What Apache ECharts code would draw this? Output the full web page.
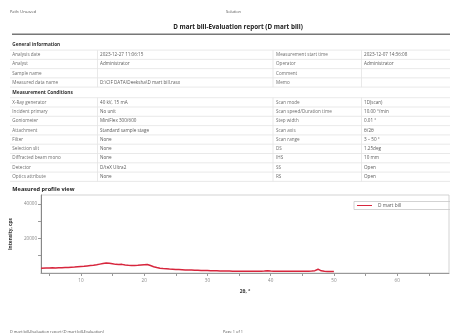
<!DOCTYPE html>
<html>
<head>
<meta charset="utf-8">
<script src="https://cdn.jsdelivr.net/npm/echarts@6/dist/echarts.min.js"></script>
<style>
  html, body { margin: 0; padding: 0; background: #fff; overflow: hidden; }
  #page { width: 450px; height: 333px; }
</style>
</head>
<body>
<div id="page"></div>
<script>
// Measured profile: 2θ (deg) and intensity (cps)
const twoTheta = [
  3.7, 4, 4.5, 5, 5.5, 6, 6.5, 7, 7.5, 8, 8.5, 9, 9.5, 10, 10.5, 11, 11.5, 12, 12.5, 13, 13.5,
  14, 14.5, 15, 15.5, 16, 16.5, 17, 17.5, 18, 18.5, 19, 19.5, 20, 20.5, 21, 21.5, 22, 22.5,
  23, 23.5, 24, 24.5, 25, 25.5, 26, 26.5, 27, 27.5, 28, 28.5, 29, 29.5, 30, 30.5, 31, 31.5,
  32, 32.5, 33, 33.5, 34, 34.5, 35, 35.5, 36, 36.5, 37, 37.5, 38, 38.5, 39, 39.5, 40, 40.5,
  41, 41.5, 42, 42.5, 43, 43.5, 44, 44.5, 45, 45.5, 46, 46.5, 47, 47.5, 48, 48.5, 49, 49.5, 50
];
const intensity = [
  2800, 2900, 2950, 2850, 3000, 2950, 3100, 3050, 3200, 3250, 3400, 3500, 3650, 3800, 3900, 4100, 4300, 4450, 4750, 5150, 5500,
  5800, 5650, 5350, 5000, 4950, 5000, 4700, 4500, 4350, 4400, 4450, 4600, 4750, 4900, 4300, 3650, 3150, 2800,
  2600, 2450, 2300, 2200, 2100, 2000, 1900, 1800, 1750, 1700, 1600, 1550, 1500, 1450, 1400, 1350, 1300, 1250,
  1200, 1150, 1100, 1100, 1050, 1050, 1000, 1000, 1050, 1000, 1000, 1050, 1000, 1050, 1150, 1300, 1100, 1000,
  950, 1000, 950, 950, 1000, 950, 950, 1000, 950, 1000, 1050, 1100, 1350, 2200, 1250, 1000, 900, 850, 800
];
const seriesName = 'D mart bill';

// Axis ticks and labels
const xTickValues = [5, 10, 15, 20, 25, 30, 35, 40, 45, 50, 55, 60, 65];
const xLabelValues = [10, 20, 30, 40, 50, 60];
const yTickValues = [10000, 20000, 30000, 40000];
const yLabelValues = [20000, 40000];

// Report header / footer text
const headerLeft = 'Path: Unsaved';
const headerCenter = 'Solution';
const reportTitle = 'D mart bill-Evaluation report (D mart bill)';
const footerLeft = 'D mart bill-Evaluation report (D mart bill-Evaluation)';
const footerCenter = 'Page 1 of 1';

// Report tables
const generalTitle = 'General information';
const generalRows = [
  ['Analysis date', '2023-12-27 11:06:15', 'Measurement start time', '2023-12-07 14:36:08'],
  ['Analyst', 'Administrator', 'Operator', 'Administrator'],
  ['Sample name', '', 'Comment', ''],
  ['Measured data name', 'D:\\CIF DATA\\Deeksha\\D mart bill.rasx', 'Memo', '']
];
const conditionTitle = 'Measurement Conditions';
const conditionRows = [
  ['X-Ray generator', '40 kV, 15 mA', 'Scan mode', '1D(scan)'],
  ['Incident primary', 'No unit', 'Scan speed/Duration time', '10.00 °/min'],
  ['Goniometer', 'MiniFlex 300/600', 'Step width', '0.01 °'],
  ['Attachment', 'Standard sample stage', 'Scan axis', 'θ/2θ'],
  ['Filter', 'None', 'Scan range', '3 – 50 °'],
  ['Selection slit', 'None', 'DS', '1.25deg'],
  ['Diffracted beam mono', 'None', 'IHS', '10 mm'],
  ['Detector', 'D/teX Ultra2', 'SS', 'Open'],
  ['Optics attribute', 'None', 'RS', 'Open']
];
const profileTitle = 'Measured profile view';

const FONT = '"Open Sans", "Noto Sans", "DejaVu Sans", sans-serif';
const colX = [12.3, 100, 276, 364];
const colLines = [97.5, 273, 361.5];

function txt(text, x, y, size, opts) {
  opts = opts || {};
  return {
    type: 'text', x: x, y: y, silent: true,
    style: {
      text: text,
      font: (opts.bold ? 'bold ' : '') + size + 'px ' + FONT,
      fill: opts.color || '#666',
      textAlign: opts.align || 'left', align: opts.align || 'left',
      textVerticalAlign: 'middle', verticalAlign: 'middle'
    }
  };
}
function hline(x1, x2, y, color, w) {
  return { type: 'line', silent: true, shape: { x1: x1, y1: y, x2: x2, y2: y },
           style: { stroke: color, lineWidth: w } };
}
function vline(x, y1, y2, color, w) {
  return { type: 'line', silent: true, shape: { x1: x, y1: y1, x2: x, y2: y2 },
           style: { stroke: color, lineWidth: w } };
}

function tableGraphics(rows, top, step) {
  const out = [];
  const bottom = top + rows.length * step;
  for (let i = 0; i <= rows.length; i++) {
    out.push(hline(10, 450, top + i * step, '#e3e3e3', 0.8));
  }
  colLines.forEach(function (cx) { out.push(vline(cx, top, bottom, '#e3e3e3', 0.8)); });
  rows.forEach(function (row, i) {
    const cy = top + (i + 0.5) * step;
    row.forEach(function (cell, j) {
      if (cell) out.push(txt(cell, colX[j], cy, 4.6, { color: j % 2 ? '#5a5a5a' : '#6e6e6e' }));
    });
  });
  return out;
}

const graphics = [].concat(
  [
    txt(headerLeft, 10, 12.3, 3.9, { color: '#555' }),
    txt(headerCenter, 226, 12.3, 3.9, { color: '#555' }),
    txt(reportTitle, 238, 26.8, 6.3, { bold: true, color: '#222', align: 'center' }),
    hline(12, 450, 34.3, '#777', 1.4),
    txt(generalTitle, 12.3, 44.3, 4.7, { bold: true, color: '#333' }),
    txt(conditionTitle, 12.3, 92.7, 4.8, { bold: true, color: '#333' }),
    txt(profileTitle, 12.3, 189.2, 5.6, { bold: true, color: '#222' }),
    txt(footerLeft, 10, 331.5, 3.9, { color: '#555' }),
    txt(footerCenter, 223, 331.5, 3.9, { color: '#555' })
  ],
  tableGraphics(generalRows, 50.1, 9.25),
  tableGraphics(conditionRows, 97.7, 9.3)
);

const chart = echarts.init(document.getElementById('page'), null, { renderer: 'canvas' });
chart.setOption({
  animation: false,
  backgroundColor: '#fff',
  textStyle: { fontFamily: FONT },
  graphic: graphics,
  grid: {
    left: 41, right: 1, top: 195, bottom: 60,
    show: true, borderColor: '#c8c8c8', borderWidth: 0.8, backgroundColor: 'transparent'
  },
  legend: {
    data: [seriesName],
    left: 354, top: 201.5,
    padding: [1.5, 80, 1.5, 3],
    itemGap: 2,
    itemWidth: 15, itemHeight: 1,
    icon: 'rect',
    borderColor: '#c8c8c8', borderWidth: 0.8,
    textStyle: { fontSize: 4.8, color: '#555', fontFamily: FONT, padding: [0, 0, 0, 1] }
  },
  xAxis: {
    type: 'value',
    min: 3.7, max: 68.2,
    name: '2θ, °',
    nameLocation: 'middle', nameGap: 16,
    nameTextStyle: { fontSize: 4.8, fontWeight: 'bold', color: '#333' },
    axisLine: { show: true, lineStyle: { color: '#999', width: 1 } },
    axisTick: { show: true, length: 3, lineStyle: { color: '#999' }, customValues: xTickValues },
    axisLabel: { fontSize: 4.6, color: '#888', margin: 5, customValues: xLabelValues },
    splitLine: { show: false }
  },
  yAxis: {
    type: 'value',
    min: 0, max: 45200,
    name: 'Intensity, cps',
    nameLocation: 'middle', nameGap: 25,
    nameRotate: 90,
    nameTextStyle: { fontSize: 4.8, fontWeight: 'bold', color: '#333' },
    axisLine: { show: true, lineStyle: { color: '#888', width: 1 } },
    axisTick: { show: true, length: 3, lineStyle: { color: '#999' }, customValues: yTickValues },
    axisLabel: {
      fontSize: 4.6, color: '#888', margin: 4, customValues: yLabelValues,
      formatter: function (v) { return String(v); }
    },
    splitLine: { show: false }
  },
  series: [{
    name: seriesName,
    type: 'line',
    data: twoTheta.map(function (t, i) { return [t, intensity[i]]; }),
    showSymbol: false,
    smooth: false,
    lineStyle: { color: '#d7263d', width: 1.5 },
    itemStyle: { color: '#d7263d' }
  }]
});
</script>
</body>
</html>
